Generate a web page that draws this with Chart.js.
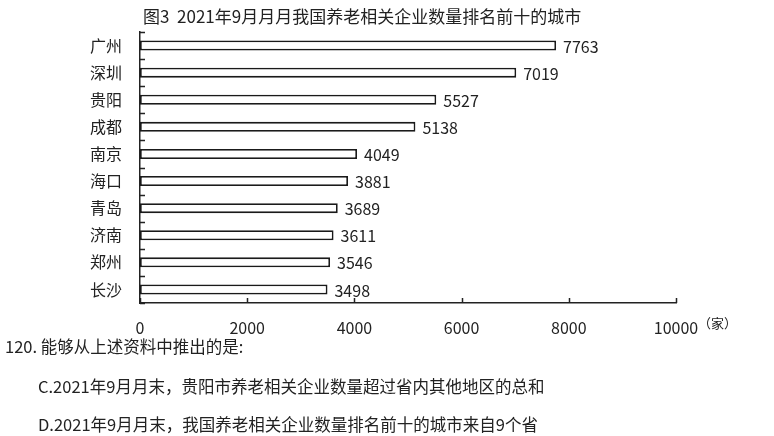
<!DOCTYPE html>
<html>
<head>
<meta charset="utf-8">
<script src="https://cdn.jsdelivr.net/npm/chart.js@4/dist/chart.umd.min.js"></script>
<style>
  html, body { margin: 0; padding: 0; background: #fff; }
  #wrap { position: relative; width: 774px; height: 436px; overflow: hidden; }
  #c { position: absolute; left: 0; top: 0; }
  .q { position: absolute; font-family: "Noto Sans CJK SC", sans-serif; font-size: 16.5px; color: #222; white-space: nowrap; line-height: 1; }
</style>
</head>
<body>
<div id="wrap">
  <canvas id="c" width="774" height="436"></canvas>
  <div class="q" style="left:5px; top:338px;">120. 能够从上述资料中推出的是:</div>
  <div class="q" style="left:38px; top:378px;">C.2021年9月月末，贵阳市养老相关企业数量超过省内其他地区的总和</div>
  <div class="q" style="left:38px; top:416px;">D.2021年9月月末，我国养老相关企业数量排名前十的城市来自9个省</div>
</div>
<script>
const titleText = "图3  2021年9月月月我国养老相关企业数量排名前十的城市";
const unitText = "（家）";
const cities = ["广州", "深圳", "贵阳", "成都", "南京", "海口", "青岛", "济南", "郑州", "长沙"];
const counts = [7763, 7019, 5527, 5138, 4049, 3881, 3689, 3611, 3546, 3498];
const xTicks = [0, 2000, 4000, 6000, 8000, 10000];

const FONT = '"Noto Sans CJK SC", sans-serif';
const INK = '#222';

const decor = {
  id: 'decor',
  afterDatasetsDraw(chart) {
    const ctx = chart.ctx;
    const area = chart.chartArea;
    const xs = chart.scales.x, ys = chart.scales.y;
    ctx.save();
    // value labels
    ctx.font = '16px ' + FONT;
    ctx.fillStyle = INK;
    ctx.textBaseline = 'middle';
    ctx.textAlign = 'left';
    chart.getDatasetMeta(0).data.forEach((bar, i) => {
      ctx.fillText(String(counts[i]), bar.x + 7, bar.y + 1);
    });
    // inward ticks on y axis at category boundaries
    const step = ys.getPixelForValue(1) - ys.getPixelForValue(0);
    ctx.strokeStyle = INK;
    ctx.lineWidth = 1.5;
    ctx.beginPath();
    for (let i = 0; i <= cities.length; i++) {
      const y = ys.getPixelForValue(0) + (i - 0.5) * step;
      ctx.moveTo(area.left, Math.round(y) + 0.5);
      ctx.lineTo(area.left + 5, Math.round(y) + 0.5);
    }
    // inward ticks on x axis
    xTicks.forEach(v => {
      const x = Math.round(xs.getPixelForValue(v)) + 0.5;
      ctx.moveTo(x, area.bottom);
      ctx.lineTo(x, area.bottom - 5);
    });
    ctx.stroke();
    // title
    ctx.font = '17px ' + FONT;
    ctx.fillStyle = INK;
    ctx.textAlign = 'left';
    ctx.textBaseline = 'middle';
    ctx.fillText(titleText, area.left + 3, 17);
    // unit
    ctx.font = '13px ' + FONT;
    ctx.fillText(unitText, xs.getPixelForValue(10000) + 22, area.bottom + 20);
    ctx.restore();
  }
};

new Chart(document.getElementById('c'), {
  type: 'bar',
  data: {
    labels: cities,
    datasets: [{
      data: counts,
      backgroundColor: '#ffffff',
      borderColor: '#1a1a1a',
      borderWidth: 1.8,
      borderSkipped: false,
      barPercentage: 0.37,
      categoryPercentage: 1
    }]
  },
  options: {
    indexAxis: 'y',
    responsive: false,
    animation: false,
    devicePixelRatio: 1,
    layout: { padding: { left: 0, right: 98, top: 32, bottom: 0 } },
    plugins: { legend: { display: false }, tooltip: { enabled: false }, title: { display: false } },
    scales: {
      x: {
        min: 0, max: 10000,
        afterBuildTicks: s => { s.ticks = xTicks.map(v => ({ value: v })); },
        afterFit: s => { s.height = 133; },
        grid: { display: false, drawTicks: false },
        border: { display: true, color: INK, width: 1.5 },
        ticks: { padding: 15, color: INK, font: { family: FONT, size: 16 }, maxRotation: 0,
                 callback: v => String(v) }
      },
      y: {
        afterFit: s => { s.width = 140; },
        grid: { display: false, drawTicks: false, offset: true },
        border: { display: true, color: INK, width: 1.5 },
        ticks: { padding: 18, color: INK, font: { family: FONT, size: 16 } }
      }
    }
  },
  plugins: [decor]
});
</script>
</body>
</html>
